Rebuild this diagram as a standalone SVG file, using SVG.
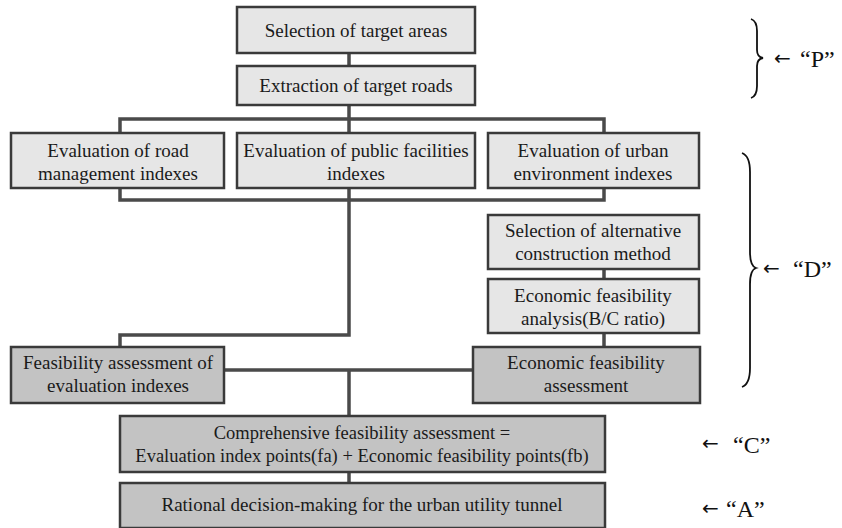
<svg xmlns="http://www.w3.org/2000/svg" width="842" height="528" viewBox="0 0 842 528">
<style>
.lt{fill:#e6e6e6;stroke:#3a3a3a;stroke-width:2.5}
.dk{fill:#c3c3c3;stroke:#3a3a3a;stroke-width:2.5}
.t{font-family:"Liberation Serif","Times New Roman",serif;font-size:19px;fill:#1a1a1a;text-anchor:middle}
.c{fill:none;stroke:#4a4a4a;stroke-width:3.5}
.br{fill:none;stroke:#111;stroke-width:1.8}
.lab{font-family:"Liberation Serif","Times New Roman",serif;font-size:24px;fill:#111}
.arr{font-family:"DejaVu Sans",sans-serif;font-size:20px;fill:#111}
</style>
<rect width="842" height="528" fill="#ffffff"/>
<g id="connectors">
<path class="c" d="M349 53V66M349 105V133M120 133V119H604V133M120 188V200H604V188M349 188V335H120V347M604 269V279M604 333V347M224 370H473M349 370V416M349 472V483"/>
</g>
<g id="n1"><rect class="lt" x="237" y="7" width="238" height="46"/><text class="t" x="356" y="37">Selection of target areas</text></g>
<g id="n2"><rect class="lt" x="237" y="66" width="238" height="39"/><text class="t" x="356" y="92">Extraction of target roads</text></g>
<g id="n3"><rect class="lt" x="11" y="133" width="213" height="55"/><text class="t" x="118" y="157">Evaluation of road</text><text class="t" x="118" y="180">management indexes</text></g>
<g id="n4"><rect class="lt" x="237" y="133" width="238" height="55"/><text class="t" x="356" y="157">Evaluation of public facilities</text><text class="t" x="356" y="180">indexes</text></g>
<g id="n5"><rect class="lt" x="488" y="133" width="211" height="55"/><text class="t" x="593" y="157">Evaluation of urban</text><text class="t" x="593" y="180">environment indexes</text></g>
<g id="n6"><rect class="lt" x="488" y="215" width="211" height="54"/><text class="t" x="593" y="237">Selection of alternative</text><text class="t" x="593" y="260">construction method</text></g>
<g id="n7"><rect class="lt" x="488" y="279" width="211" height="54"/><text class="t" x="593" y="302">Economic feasibility</text><text class="t" x="593" y="325">analysis(B/C ratio)</text></g>
<g id="n8"><rect class="dk" x="11" y="347" width="213" height="56"/><text class="t" x="118" y="369">Feasibility assessment of</text><text class="t" x="118" y="392">evaluation indexes</text></g>
<g id="n9"><rect class="dk" x="473" y="347" width="227" height="56"/><text class="t" x="586" y="369">Economic feasibility</text><text class="t" x="586" y="392">assessment</text></g>
<g id="n10"><rect class="dk" x="120" y="416" width="485" height="56"/><text class="t" x="362" y="439" style="font-size:18.5px">Comprehensive feasibility assessment =</text><text class="t" x="362" y="462" style="font-size:18.5px">Evaluation index points(fa) + Economic feasibility points(fb)</text></g>
<g id="n11"><rect class="dk" x="120" y="483" width="485" height="45"/><text class="t" x="362" y="511">Rational decision-making for the urban utility tunnel</text></g>
<g id="phases">
<path class="br" d="M751 19Q757 21 757 31V50Q757 57 763 58Q757 59 757 66V86Q757 96 751 98"/>
<path class="br" d="M742 153Q750 156 750 172V252Q750 266 756 268Q750 270 750 284V368Q750 384 742 387"/>
<text class="arr" x="774" y="65">←</text><text class="lab" x="800" y="67">“P”</text>
<text class="arr" x="763" y="275">←</text><text class="lab" x="793" y="277">“D”</text>
<text class="arr" x="702" y="450">←</text><text class="lab" x="733" y="453">“C”</text>
<text class="arr" x="702" y="515">←</text><text class="lab" x="726" y="517">“A”</text>
</g>
</svg>
